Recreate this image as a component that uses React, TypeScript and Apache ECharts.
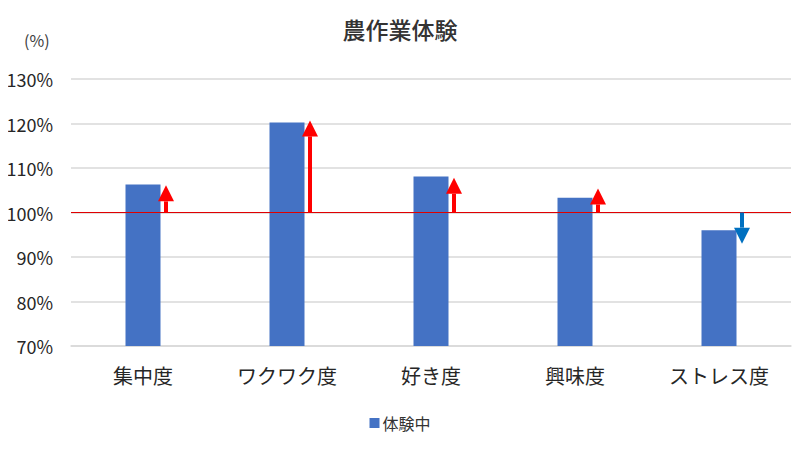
import React, { useEffect, useRef } from "react";
import * as echarts from "echarts";

const categories = ["集中度", "ワクワク度", "好き度", "興味度", "ストレス度"];
const experienceValues = [106.3, 120.2, 108.1, 103.3, 96.0];
const arrowEnds = [106.1, 120.7, 107.8, 105.4, 93.0];
const baseline = 100;
const yTicks = { min: 70, max: 130, interval: 10 };

export default function App() {
  const ref = useRef<HTMLDivElement>(null);
  useEffect(() => {
    if (!ref.current) return;
    const chart = echarts.init(ref.current, null, { renderer: "svg" });
    const font = "'Noto Sans CJK JP', 'Noto Sans', sans-serif";
    chart.setOption({
      animation: false,
      textStyle: { fontFamily: font },
      title: {
        text: "農作業体験",
        left: "center",
        top: 12,
        textStyle: { fontSize: 23, fontWeight: 500, color: "#333", fontFamily: font },
      },
      graphic: [
        {
          type: "text",
          left: 24,
          top: 32,
          style: { text: "(%)", fontSize: 16, fill: "#404040", fontFamily: font },
        },
      ],
      legend: {
        bottom: 14,
        left: "center",
        itemWidth: 10,
        itemHeight: 10,
        itemGap: 4,
        data: [{ name: "体験中", icon: "rect" }],
        textStyle: { fontSize: 16, color: "#333", fontFamily: font, padding: [0, 0, 0, -2] },
      },
      grid: { left: 71, right: 9, top: 79, bottom: 104, containLabel: false },
      xAxis: {
        type: "category",
        data: categories,
        axisLine: { lineStyle: { color: "#d9d9d9", width: 1.5 } },
        axisTick: { show: false },
        axisLabel: { fontSize: 20, color: "#262626", margin: 19, fontFamily: font },
      },
      yAxis: {
        type: "value",
        min: yTicks.min,
        max: yTicks.max,
        interval: yTicks.interval,
        axisLine: { show: false },
        axisTick: { show: false },
        axisLabel: { formatter: "{value}%", fontSize: 18, color: "#262626", margin: 18, fontFamily: font },
        splitLine: { lineStyle: { color: "#d9d9d9", width: 1.5 } },
      },
      series: [
        {
          name: "体験中",
          type: "bar",
          data: experienceValues,
          barWidth: 35,
          itemStyle: { color: "#4472c4" },
          markLine: {
            silent: true,
            symbol: "none",
            label: { show: false },
            lineStyle: { color: "#e00000", width: 1, type: "solid" },
            data: [{ yAxis: baseline }],
          },
          z: 2,
        },
        {
          name: "arrows",
          type: "custom",
          data: arrowEnds.map((v, i) => [i, v]),
          z: 5,
          renderItem: (params: any, api: any) => {
            const idx = api.value(0);
            const end = api.value(1);
            const start = api.coord([idx, baseline]);
            const tip = api.coord([idx, end]);
            const x = start[0] + 23;
            const up = end >= baseline;
            const color = up ? "#ff0000" : "#0070c0";
            const headH = 16;
            const headW = 16;
            const dir = up ? 1 : -1;
            const baseY = tip[1] + dir * headH;
            return {
              type: "group",
              children: [
                {
                  type: "line",
                  shape: { x1: x, y1: start[1], x2: x, y2: baseY },
                  style: { stroke: color, lineWidth: 4 },
                },
                {
                  type: "polygon",
                  shape: {
                    points: [
                      [x, tip[1]],
                      [x - headW / 2, baseY],
                      [x + headW / 2, baseY],
                    ],
                  },
                  style: { fill: color },
                },
              ],
            };
          },
        },
      ],
    });
    return () => chart.dispose();
  }, []);
  return <div ref={ref} style={{ width: 800, height: 450, margin: -8 }} />;
}
